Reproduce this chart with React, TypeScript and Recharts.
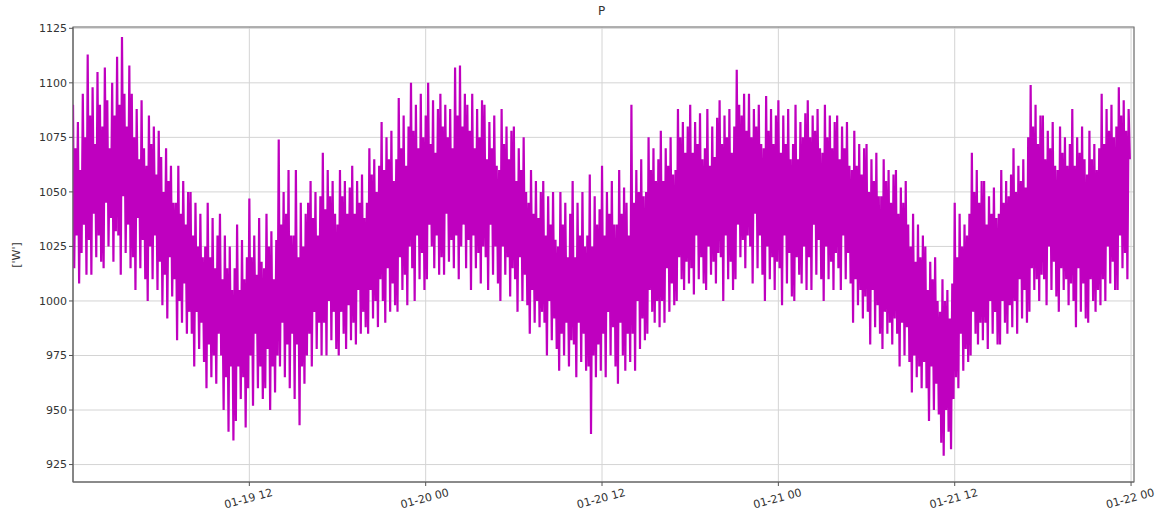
import React from "react";
import {
  LineChart,
  Line,
  XAxis,
  YAxis,
  CartesianGrid,
  ReferenceArea,
} from "recharts";

// Active power P, one reading every 5 minutes from 01-19 00:00 to 01-22 00:00
// (one row per hour)
const power: number[] = [
  1090, 1015, 1070, 1030, 1082, 1008, 1060, 1022, 1095, 1035, 1075, 1012,
  1113, 1028, 1085, 1012, 1098, 1040, 1072, 1020, 1105, 1030, 1090, 1018,
  1080, 1015, 1107, 1045, 1092, 1025, 1070, 1038, 1100, 1018, 1085, 1032,
  1112, 1030, 1090, 1012, 1121, 1048, 1095, 1022, 1080, 1035, 1108, 1015,
  1095, 1020, 1075, 1005, 1088, 1038, 1065, 1015, 1092, 1028, 1070, 1010,
  1062, 1000, 1085, 1025, 1072, 1010, 1080, 1030, 1058, 1005, 1078, 1018,
  1066, 998, 1050, 1012, 1070, 992, 1055, 1020, 1062, 1002, 1045, 1010,
  1045, 982, 1062, 1000, 1040, 990, 1055, 1008, 1035, 985, 1050, 995,
  1050, 985, 1030, 970, 1045, 995, 1025, 978, 1040, 990, 1020, 972,
  1025, 960, 1045, 980, 1020, 965, 1038, 975, 1015, 962, 1030, 985,
  1040, 975, 1010, 950, 1030, 965, 1015, 940, 1025, 970, 1005, 936,
  1015, 945, 1035, 970, 1005, 955, 1028, 965, 1010, 942, 1020, 960,
  1047, 975, 1020, 952, 1030, 985, 1012, 960, 1038, 970, 1018, 955,
  1015, 960, 1040, 978, 1025, 950, 1032, 970, 1010, 958, 1028, 975,
  1074, 970, 1035, 990, 1050, 965, 1040, 980, 1060, 960, 1030, 985,
  1030, 955, 1060, 980, 1020, 943, 1045, 970, 1025, 962, 1040, 975,
  1045, 985, 1055, 970, 1038, 995, 1050, 978, 1030, 990, 1048, 975,
  1068, 990, 1042, 975, 1060, 1000, 1048, 982, 1055, 995, 1040, 978,
  1035, 975, 1060, 995, 1048, 985, 1055, 978, 1040, 998, 1052, 982,
  1062, 990, 1040, 980, 1055, 1005, 1045, 985, 1058, 995, 1038, 988,
  1045, 985, 1070, 1005, 1058, 992, 1065, 1000, 1050, 988, 1062, 1010,
  1082, 1000, 1060, 990, 1075, 1015, 1065, 995, 1078, 1008, 1055, 998,
  1065, 995, 1093, 1020, 1070, 1005, 1085, 1012, 1062, 998, 1080, 1025,
  1100, 1015, 1078, 1000, 1090, 1030, 1070, 1010, 1095, 1022, 1075, 1005,
  1085, 1010, 1100, 1035, 1072, 1025, 1092, 1015, 1068, 1030, 1088, 1012,
  1095, 1020, 1080, 1012, 1090, 1040, 1075, 1018, 1088, 1028, 1070, 1015,
  1107, 1030, 1085, 1010, 1108, 1025, 1080, 1035, 1095, 1015, 1090, 1028,
  1078, 1005, 1095, 1030, 1070, 1015, 1088, 1022, 1075, 1008, 1092, 1025,
  1090, 1020, 1065, 1005, 1082, 1035, 1070, 1012, 1085, 1025, 1062, 1008,
  1060, 1000, 1088, 1025, 1072, 1012, 1080, 1020, 1065, 1002, 1078, 1015,
  1080, 1010, 1055, 995, 1070, 1020, 1060, 1000, 1075, 1012, 1050, 998,
  1045, 985, 1060, 1005, 1040, 990, 1055, 1000, 1038, 988, 1050, 995,
  1055, 990, 1030, 975, 1048, 1000, 1035, 982, 1050, 992, 1028, 978,
  1025, 968, 1050, 985, 1035, 975, 1045, 990, 1020, 970, 1040, 982,
  1055, 980, 1020, 965, 1045, 990, 1030, 972, 1050, 985, 1025, 968,
  1030, 970, 1058, 939, 1025, 975, 1048, 965, 1035, 980, 1042, 968,
  1062, 985, 1030, 965, 1050, 995, 1040, 975, 1055, 988, 1035, 970,
  1035, 962, 1060, 990, 1040, 975, 1052, 968, 1045, 985, 1030, 972,
  1090, 985, 1045, 968, 1060, 1000, 1050, 978, 1065, 992, 1048, 982,
  1050, 985, 1075, 1005, 1060, 995, 1070, 990, 1055, 1000, 1065, 988,
  1078, 1000, 1055, 990, 1070, 1015, 1062, 995, 1075, 1008, 1058, 998,
  1060, 1000, 1088, 1020, 1075, 1010, 1082, 1005, 1068, 1018, 1080, 1008,
  1090, 1015, 1068, 1003, 1082, 1030, 1072, 1010, 1086, 1020, 1065, 1008,
  1070, 1005, 1088, 1025, 1062, 1012, 1080, 1018, 1066, 1008, 1084, 1022,
  1092, 1020, 1072, 1000, 1085, 1030, 1075, 1010, 1088, 1018, 1068, 1005,
  1080, 1010, 1106, 1035, 1090, 1020, 1085, 1028, 1095, 1015, 1078, 1030,
  1095, 1025, 1075, 1008, 1088, 1040, 1080, 1015, 1090, 1030, 1072, 1012,
  1070, 1000, 1094, 1025, 1078, 1010, 1088, 1020, 1072, 1005, 1085, 1018,
  1092, 1015, 1068, 998, 1085, 1030, 1072, 1008, 1088, 1022, 1065, 1002,
  1072, 1000, 1090, 1020, 1065, 1012, 1082, 1008, 1075, 1025, 1086, 1005,
  1092, 1020, 1075, 1005, 1085, 1035, 1078, 1012, 1088, 1028, 1070, 1010,
  1068, 1000, 1090, 1025, 1075, 1010, 1085, 1018, 1070, 1005, 1082, 1022,
  1085, 1015, 1065, 1005, 1080, 1030, 1070, 1010, 1082, 1022, 1062, 1008,
  1060, 990, 1078, 1010, 1062, 998, 1072, 1005, 1058, 992, 1070, 1002,
  1072, 995, 1050, 980, 1065, 1005, 1055, 988, 1068, 998, 1048, 985,
  1048, 978, 1065, 995, 1055, 985, 1060, 990, 1045, 980, 1058, 992,
  1060, 985, 1040, 970, 1052, 990, 1045, 975, 1055, 988, 1035, 972,
  1025, 958, 1040, 975, 1018, 965, 1035, 970, 1020, 960, 1030, 972,
  1025, 960, 1005, 945, 1018, 970, 1010, 950, 1020, 962, 1000, 948,
  995, 935, 1010, 929, 1000, 950, 1005, 940, 992, 932, 1008, 955,
  1045, 965, 1020, 960, 1040, 985, 1025, 968, 1035, 978, 1030, 972,
  1040, 975, 1068, 995, 1050, 985, 1060, 980, 1045, 990, 1055, 982,
  1055, 990, 1035, 978, 1048, 1000, 1040, 985, 1052, 995, 1038, 980,
  1040, 980, 1060, 1000, 1045, 990, 1055, 985, 1048, 998, 1058, 988,
  1070, 1000, 1050, 985, 1062, 1010, 1055, 992, 1065, 1005, 1052, 990,
  1075, 995, 1099, 1015, 1080, 1005, 1090, 1010, 1072, 1000, 1085, 1012,
  1085, 1010, 1065, 998, 1078, 1025, 1070, 1005, 1082, 1018, 1062, 1002,
  1060, 995, 1080, 1015, 1068, 1005, 1075, 1010, 1062, 998, 1072, 1008,
  1088, 1000, 1062, 988, 1075, 1015, 1068, 995, 1080, 1008, 1065, 992,
  1058, 990, 1078, 1010, 1065, 1000, 1072, 995, 1060, 1005, 1070, 998,
  1095, 1010, 1072, 1000, 1088, 1025, 1078, 1008, 1090, 1018, 1075, 1005,
  1080, 1005, 1098, 1030, 1085, 1015, 1092, 1022, 1078, 1010, 1088, 1065,
];

// hours since 01-19 00:00
const xTicks = [12, 24, 36, 48, 60, 72];
const xTickLabels = ["01-19 12", "01-20 00", "01-20 12", "01-21 00", "01-21 12", "01-22 00"];
const yTicks = [925, 950, 975, 1000, 1025, 1050, 1075, 1100, 1125];

const X_MIN = 0;
const X_MAX = 72.2;
const Y_MIN = 917;
const Y_MAX = 1125.6;

const data = power.map((p, i) => ({ t: i / 12, p }));

const FONT = "'DejaVu Sans', sans-serif";

function XTick({ x, y, payload }: any) {
  const idx = xTicks.indexOf(payload.value);
  return (
    <text
      x={x}
      y={y + 14}
      transform={`rotate(-15, ${x}, ${y + 14})`}
      textAnchor="middle"
      fill="#333"
      fontSize={11}
      fontFamily={FONT}
    >
      {idx >= 0 ? xTickLabels[idx] : ""}
    </text>
  );
}

export default function App() {
  return (
    <div style={{ position: "absolute", left: 0, top: 0, width: 1163, height: 520, background: "#fff" }}>
      <div
        style={{
          position: "absolute",
          left: 0,
          width: 1163,
          top: 4,
          textAlign: "center",
          paddingLeft: 40,
          boxSizing: "border-box",
          fontFamily: FONT,
          fontSize: 12,
          color: "#333",
        }}
      >
        P
      </div>
      <div
        style={{
          position: "absolute",
          left: 8,
          top: 255,
          transform: "translate(-50%, -50%) rotate(-90deg) translateY(8px)",
          fontFamily: FONT,
          fontSize: 11,
          color: "#333",
          whiteSpace: "nowrap",
        }}
      >
        ['W']
      </div>
      <LineChart
        width={1163}
        height={520}
        data={data}
        margin={{ top: 27, right: 29, bottom: 8, left: 23 }}
      >
        <CartesianGrid stroke="#d4d4d4" strokeWidth={1} />
        <XAxis
          dataKey="t"
          type="number"
          domain={[X_MIN, X_MAX]}
          ticks={xTicks}
          tick={<XTick />}
          tickLine={{ stroke: "#555" }}
          tickSize={4}
          axisLine={{ stroke: "#666" }}
          height={30}
          allowDataOverflow
          interval={0}
        />
        <YAxis
          type="number"
          domain={[Y_MIN, Y_MAX]}
          ticks={yTicks}
          tick={{ fill: "#333", fontSize: 11, fontFamily: FONT }}
          tickLine={{ stroke: "#555" }}
          tickSize={4}
          axisLine={{ stroke: "#666" }}
          width={50}
          allowDataOverflow
          interval={0}
        />
        <ReferenceArea
          x1={X_MIN}
          x2={X_MAX}
          y1={Y_MIN}
          y2={Y_MAX}
          fill="none"
          stroke="#777"
          strokeWidth={1.2}
        />
        <Line
          type="linear"
          dataKey="p"
          stroke="#bf00bf"
          strokeWidth={2.2}
          dot={false}
          isAnimationActive={false}
        />
      </LineChart>
    </div>
  );
}
